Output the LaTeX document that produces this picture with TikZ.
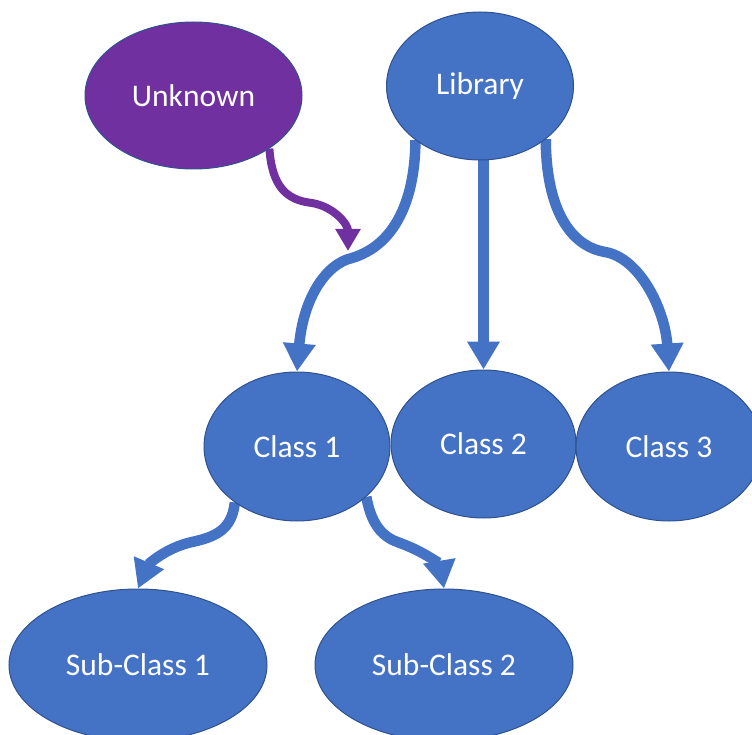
\documentclass[tikz,border=0pt]{standalone}
\usepackage{fontspec}
\setmainfont{Carlito}
\usetikzlibrary{shapes.geometric,arrows.meta,backgrounds}
\definecolor{nodeblue}{HTML}{4472C4}
\definecolor{edgeblue}{HTML}{2F528F}
\definecolor{nodepurple}{HTML}{7030A0}
\begin{document}
\begin{tikzpicture}[x=1pt,y=-1pt,
  bubble/.style={ellipse,draw=edgeblue,line width=1pt,fill=nodeblue,text=white,inner sep=0pt,font=\fontsize{31.5}{37}\selectfont},
  link/.style={draw=nodeblue,line width=10.5pt,-{Triangle[width=31pt,length=28pt]}},
  plink/.style={draw=nodepurple,line width=8pt,-{Triangle[width=24pt,length=22pt]}}]
\useasboundingbox (0,0) rectangle (752,735);
\node[bubble,fill=nodepurple,minimum width=217pt,minimum height=147pt] (unk) at (193.5,95.5) {Unknown};
\node[bubble,minimum width=187pt,minimum height=148pt] (lib) at (480,86) {Library};
\node[bubble,minimum width=186pt,minimum height=149pt] (c1) at (297,446.5) {Class 1};
\node[bubble,minimum width=185pt,minimum height=148pt] (c2) at (483.5,444) {Class 2};
\node[bubble,minimum width=186pt,minimum height=149pt] (c3) at (669,446.5) {Class 3};
\node[bubble,minimum width=258pt,minimum height=152pt] (s1) at (138,665) {Sub-Class 1};
\node[bubble,minimum width=258pt,minimum height=152pt] (s2) at (444,665) {Sub-Class 2};
\coordinate (meet) at (348,251);
\begin{scope}[on background layer]
\draw[link] (lib.220) .. controls (415,200) and (395,245) .. (352,258) .. controls (325,264) and (303,300) .. (c1.north);
\draw[link] (c2.north |- lib.south) -- (c2.north);
\draw[link] (lib.321) .. controls (546,200) and (565,245) .. (605,252) .. controls (640,258) and (665,310) .. (c3.north);
\draw[plink] (unk.325) .. controls (272,185) and (285,200) .. (312,203) .. controls (335,207) and (348,225) .. (meet);
\draw[link] (c1.222) .. controls (232,530) and (215,537) .. (192,542) .. controls (165,548) and (148,565) .. (s1.north);
\draw[link] (c1.324) .. controls (372,528) and (385,538) .. (400,543) .. controls (425,552) and (440,565) .. (s2.north);
\end{scope}
\end{tikzpicture}
\end{document}
